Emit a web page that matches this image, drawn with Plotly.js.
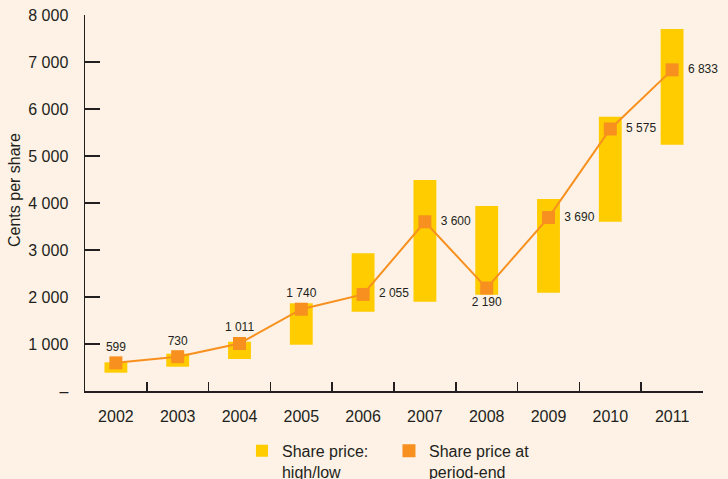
<!DOCTYPE html>
<html>
<head>
<meta charset="utf-8">
<script src="https://cdn.plot.ly/plotly-3.0.1.min.js"></script>
<style>html,body{margin:0;padding:0;background:#FDF2E5;}</style>
</head>
<body>
<div id="chart" style="width:728px;height:479px;"></div>
<script>
const years = ["2002","2003","2004","2005","2006","2007","2008","2009","2010","2011"];
const lowPrice  = [390, 517, 681, 985, 1687, 1900, 2049, 2091, 3602, 5240];
const highPrice = [610, 794, 1049, 1866, 2930, 4489, 3936, 4085, 5836, 7702];
const periodEnd = [599, 730, 1011, 1740, 2055, 3600, 2190, 3690, 5575, 6833];
const periodEndLabels = ["599","730","1 011","1 740","2 055","3 600","2 190","3 690","5 575","6 833"];
const labelPositions = ["top center","top center","top center","top center","middle right","middle right","bottom center","middle right","middle right","middle right"];
const yTickVals = [0,1000,2000,3000,4000,5000,6000,7000,8000];
const yTickText = ["–","1 000","2 000","3 000","4 000","5 000","6 000","7 000","8 000"];

const textColor = "#231F20";
const yellow = "#FFCC00";
const orange = "#F7901E";
const font = "Liberation Sans, Arial, Helvetica, sans-serif";

const traces = [
  {
    type: "bar",
    x: years,
    y: highPrice.map((h, i) => h - lowPrice[i]),
    base: lowPrice,
    width: 0.37,
    marker: {color: yellow},
    name: "Share price:<br>high/low",
    hoverinfo: "skip"
  },
  {
    type: "scatter",
    mode: "lines",
    x: years,
    y: periodEnd,
    line: {color: orange, width: 2},
    showlegend: false,
    hoverinfo: "skip"
  },
  {
    type: "scatter",
    mode: "markers+text",
    x: years,
    y: periodEnd,
    marker: {symbol: "square", size: 13, color: orange},
    text: periodEndLabels,
    texttemplate: labelPositions.map(p => p === "middle right" ? "\u00a0\u00a0%{text}" : "%{text}"),
    textposition: labelPositions,
    textfont: {family: font, size: 12, color: textColor},
    name: "Share price at<br>period-end",
    cliponaxis: false
  }
];

const layout = {
  width: 728,
  height: 479,
  margin: {l: 85, r: 25, t: 15, b: 88, autoexpand: false},
  paper_bgcolor: "#FDF2E5",
  plot_bgcolor: "#FDF2E5",
  font: {family: font, size: 16, color: textColor},
  showlegend: true,
  legend: {
    orientation: "h",
    x: 0.254, xanchor: "left",
    y: -0.114, yanchor: "top",
    valign: "top",
    font: {family: font, size: 16, color: textColor},
    entrywidth: 102, entrywidthmode: "pixels",
    bgcolor: "rgba(0,0,0,0)"
  },
  xaxis: {
    type: "category",
    range: [-0.5, 9.5],
    tickson: "boundaries",
    ticks: "inside",
    ticklen: 9,
    tickwidth: 1.5,
    tickcolor: textColor,
    showline: true,
    linecolor: textColor,
    linewidth: 1.5,
    showgrid: false,
    zeroline: false,
    ticklabelstandoff: 10,
    tickfont: {family: font, size: 16, color: textColor},
    fixedrange: true
  },
  yaxis: {
    range: [0, 8000],
    tickvals: yTickVals,
    ticktext: yTickText,
    ticks: "inside",
    ticklen: 15,
    tickwidth: 1.5,
    tickcolor: textColor,
    showline: true,
    linecolor: textColor,
    linewidth: 1.5,
    showgrid: false,
    zeroline: false,
    ticklabelstandoff: 12,
    tickfont: {family: font, size: 16, color: textColor},
    fixedrange: true
  },
  annotations: [{
    text: "Cents per share",
    xref: "paper", yref: "paper",
    x: -0.113, y: 0.535,
    xanchor: "center", yanchor: "middle",
    textangle: -90,
    showarrow: false,
    font: {family: font, size: 16, color: textColor}
  }]
};

Plotly.newPlot("chart", traces, layout, {displayModeBar: false, staticPlot: true});
</script>
</body>
</html>
